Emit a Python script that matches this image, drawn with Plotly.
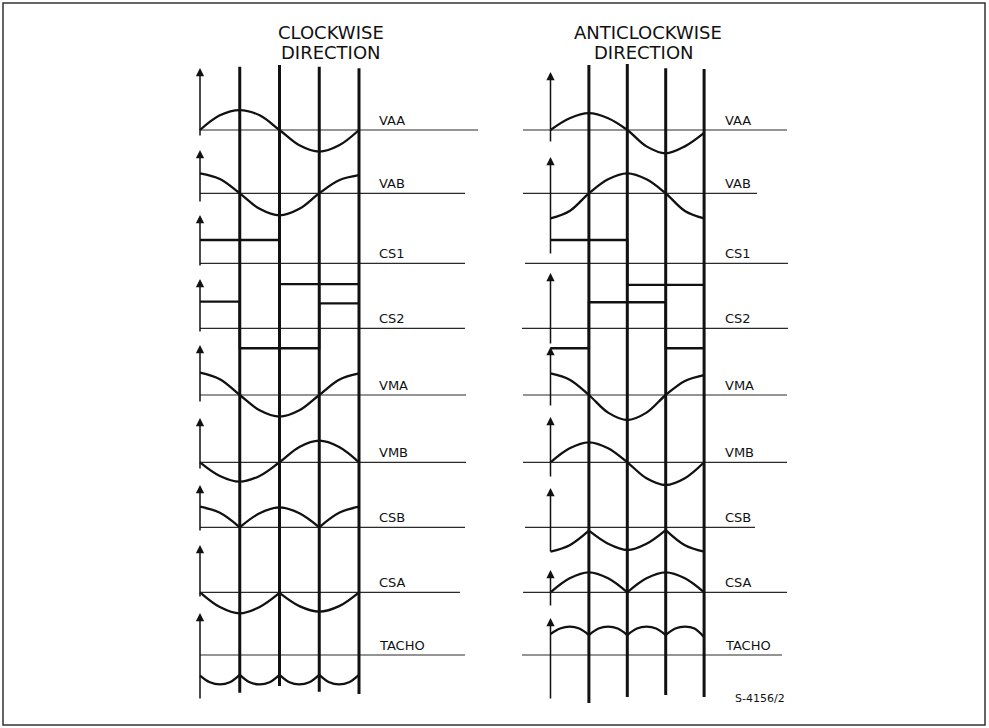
import plotly.graph_objects as go

W, H = 989, 728

# ---------------- data ----------------
PHASE = [0, 0.5, 1, 1.5, 2, 2.5, 3, 3.5, 4]      # quarter-period marks
PHASE_FINE = [0, 0.25, 0.5, 0.75, 1, 1.25, 1.5, 1.75, 2,
              2.25, 2.5, 2.75, 3, 3.25, 3.5, 3.75, 4]
EDGES = [0, 1, 2, 3, 4]                          # logic signal edges
SIGNALS = ["VAA", "VAB", "CS1", "CS2", "VMA", "VMB", "CSB", "CSA", "TACHO"]
LOGIC = ["CS1", "CS2"]
FINE = ["TACHO"]

# clockwise direction (amplitude in relative units)
CW_VAA = [0, 0.70, 0.95, 0.70, 0, -0.73, -1.03, -0.73, 0]
CW_VAB = [0.95, 0.68, 0, -0.74, -1.05, -0.74, 0, 0.62, 0.86]
CW_CS1 = [1.11, 1.11, -0.99, -0.99]
CW_CS2 = [1.27, -0.95, -0.95, 1.19]
CW_VMA = [1.06, 0.75, 0, -0.73, -1.03, -0.73, 0, 0.73, 1.03]
CW_VMB = [0, -0.65, -0.92, -0.65, 0, 0.73, 1.03, 0.73, 0]
CW_CSB = [0.98, 0.69, 0, 0.67, 0.95, 0.67, 0, 0.69, 0.98]
CW_CSA = [0, -0.70, -1.00, -0.70, -0.03, -0.66, -0.92, -0.66, 0]
CW_TACHO = [-0.98, -1.30, -1.40, -1.30, -0.95, -1.30, -1.40, -1.30, -0.95,
            -1.30, -1.40, -1.30, -0.95, -1.30, -1.40, -1.30, -0.95]

# anticlockwise direction
ACW_VAA = [0, 0.56, 0.80, 0.56, 0, -0.78, -1.11, -0.78, -0.14]
ACW_VAB = [-1.19, -0.84, 0, 0.67, 0.95, 0.67, 0, -0.84, -1.19]
ACW_CS1 = [1.11, 1.11, -1.03, -1.03]
ACW_CS2 = [-0.95, 1.24, 1.24, -0.95]
ACW_VMA = [1.03, 0.73, 0, -0.84, -1.19, -0.84, 0, 0.67, 0.95]
ACW_VMB = [0, 0.67, 0.95, 0.67, 0, -0.76, -1.08, -0.76, 0]
ACW_CSB = [-1.16, -0.85, -0.16, -0.78, -1.08, -0.78, -0.13, -0.85, -1.16]
ACW_CSA = [0, 0.67, 0.95, 0.67, 0, 0.67, 0.95, 0.67, 0]
ACW_TACHO = [1.00, 1.26, 1.35, 1.26, 0.95, 1.26, 1.35, 1.26, 0.95,
             1.26, 1.35, 1.26, 0.95, 1.26, 1.35, 1.26, 0.85]

CUSPS = {"CSB": [1, 3], "CSA": [2], "TACHO": [1, 2, 3]}

TITLES = [["CLOCKWISE", "DIRECTION"], ["ANTICLOCKWISE", "DIRECTION"]]
REF_CODE = "S-4156/2"

CW = dict(zip(SIGNALS, [CW_VAA, CW_VAB, CW_CS1, CW_CS2, CW_VMA, CW_VMB, CW_CSB, CW_CSA, CW_TACHO]))
ACW = dict(zip(SIGNALS, [ACW_VAA, ACW_VAB, ACW_CS1, ACW_CS2, ACW_VMA, ACW_VMB, ACW_CSB, ACW_CSA, ACW_TACHO]))

# ---------------- layout constants (pixels) ----------------
INK = "#111111"
BASE_INK = "#2a2a2a"
UNIT_PX = 21.0
BASELINE_PX = [130, 193.3, 263.3, 328.3, 395, 462.3, 527.3, 592.3, 655]

PANELS = [
    dict(xa="x", x0=200.0, step=39.75, label_x=377,
         base_start=[200] * 9,
         base_end=[478, 465, 465, 465, 466, 466, 465, 460, 465],
         line_top=[66.7, 65, 66.7, 68.3], line_bot=[692.7, 686, 691.7, 694],
         arrows=[(68, 137), (150, 203), (215, 267), (279, 333), (345, 403),
                 (418, 470), (485, 532), (545, 598), (613, 700)],
         title_x=[331, 331]),
    dict(xa="x2", x0=550.5, step=38.4, label_x=723,
         base_start=[523, 523, 525, 522, 523, 523, 525, 523, 522],
         base_end=[787, 757, 788, 788, 787, 787, 755, 787, 782],
         line_top=[65, 64, 68.3, 69], line_bot=[703, 697, 695, 697],
         arrows=[(72, 143), (157, 255), (273, 345), (347, 407), (417, 478),
                 (488, 553), (570, 607), (618, 700)],
         title_x=[648, 644]),
]
TITLE_Y = [33, 53]


def py(px):
    return 1 - px / H


def split_segments(grid, values, cusps):
    bps = [0] + cusps + [4]
    xs, ys = [], []
    for a, b in zip(bps[:-1], bps[1:]):
        for p, v in zip(grid, values):
            if a <= p <= b:
                xs.append(p)
                ys.append(v)
        xs.append(None)
        ys.append(None)
    return xs, ys


fig = go.Figure()
shapes = []
annotations = []

for pi, (panel, data) in enumerate(zip(PANELS, [CW, ACW])):
    xa = panel["xa"]
    for ri, name in enumerate(SIGNALS):
        ya = "y" if ri == 0 else f"y{ri + 1}"
        vals = data[name]
        if name in LOGIC:
            xs = EDGES
            ys = vals + [vals[-1]]
            shape = "spline" if False else "hv"
        else:
            grid = PHASE_FINE if name in FINE else PHASE
            xs, ys = split_segments(grid, vals, CUSPS.get(name, []))
            shape = "spline"
        fig.add_trace(go.Scatter(
            x=xs, y=ys, xaxis=xa, yaxis=ya, mode="lines",
            line=dict(color=INK, width=2.3, shape=shape),
            connectgaps=False, hoverinfo="skip", showlegend=False))

        # baseline of the row
        shapes.append(dict(type="line", xref="paper", yref=ya,
                           x0=panel["base_start"][ri] / W, x1=panel["base_end"][ri] / W,
                           y0=0, y1=0, line=dict(color=BASE_INK, width=1.2)))
        # row label
        annotations.append(dict(xref="paper", yref=ya, x=panel["label_x"] / W, y=0,
                                xanchor="left", yanchor="bottom", yshift=0,
                                text=name, showarrow=False,
                                font=dict(family="DejaVu Sans", size=13, color=INK)))

    # time marker lines
    for k, ph in enumerate(EDGES[1:]):
        shapes.append(dict(type="line", xref=xa, yref="paper", x0=ph, x1=ph,
                           y0=py(panel["line_bot"][k]), y1=py(panel["line_top"][k]),
                           line=dict(color=INK, width=3)))
    # amplitude axis arrows
    for tip, bot in panel["arrows"]:
        annotations.append(dict(xref=xa, yref="paper", x=0, y=py(tip),
                                axref="pixel", ayref="pixel", ax=0, ay=bot - tip,
                                text="", showarrow=True, arrowhead=2, arrowsize=1.1,
                                arrowwidth=1.5, arrowcolor=INK, standoff=0, startstandoff=0))
    # titles
    for li, txt in enumerate(TITLES[pi]):
        annotations.append(dict(xref="paper", yref="paper", x=panel["title_x"][li] / W,
                                y=py(TITLE_Y[li]), xanchor="center", yanchor="middle",
                                text=txt, showarrow=False,
                                font=dict(family="DejaVu Sans", size=18, color=INK)))

annotations.append(dict(xref="paper", yref="paper", x=760 / W, y=py(698),
                        xanchor="center", yanchor="middle", text=REF_CODE, showarrow=False,
                        font=dict(family="DejaVu Sans", size=11, color=INK)))

# frame
shapes.append(dict(type="rect", xref="paper", yref="paper", x0=3 / W, x1=985 / W,
                   y0=py(725), y1=py(3), line=dict(color="#333333", width=1.5)))

layout = dict(
    width=W, height=H, autosize=False,
    margin=dict(l=0, r=0, t=0, b=0, pad=0),
    paper_bgcolor="white", plot_bgcolor="white",
    showlegend=False, hovermode=False,
    shapes=shapes, annotations=annotations,
)
for i, panel in enumerate(PANELS):
    key = "xaxis" if i == 0 else "xaxis2"
    ax = dict(domain=[0, 1], range=[-panel["x0"] / panel["step"], (W - panel["x0"]) / panel["step"]],
              visible=False, fixedrange=True)
    if i > 0:
        ax["overlaying"] = "x"
    layout[key] = ax
for ri, b in enumerate(BASELINE_PX):
    key = "yaxis" if ri == 0 else f"yaxis{ri + 1}"
    ax = dict(domain=[0, 1], range=[(b - H) / UNIT_PX, b / UNIT_PX], visible=False, fixedrange=True)
    if ri > 0:
        ax["overlaying"] = "y"
    layout[key] = ax

fig.update_layout(**layout)
fig.write_html("out.html", config={"displayModeBar": False},
               post_script="document.body.style.margin='0';document.body.style.padding='0';")
